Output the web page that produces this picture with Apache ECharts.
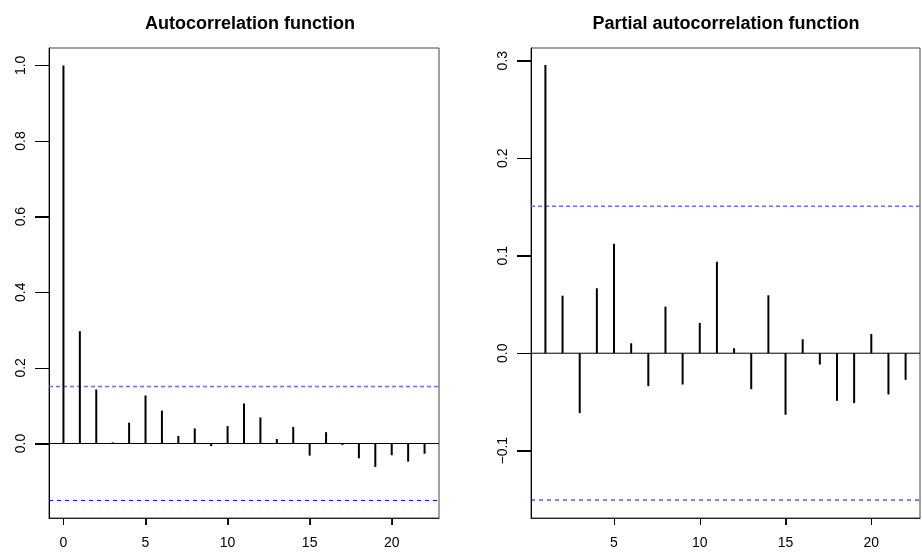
<!DOCTYPE html>
<html>
<head>
<meta charset="utf-8">
<script src="https://cdn.jsdelivr.net/npm/echarts@6/dist/echarts.min.js"></script>
<style>
  html, body { margin: 0; padding: 0; background: #fff; }
  #chart { width: 922px; height: 553px; }
</style>
</head>
<body>
<div id="chart"></div>
<script>
// lags and values
var acfLags = [0, 1, 2, 3, 4, 5, 6, 7, 8, 9, 10, 11, 12, 13, 14, 15, 16, 17, 18, 19, 20, 21, 22];
var acfValues = [1.0, 0.297, 0.143, 0.003, 0.055, 0.127, 0.087, 0.020, 0.040, -0.007, 0.046, 0.106,
    0.069, 0.012, 0.044, -0.032, 0.030, -0.004, -0.039, -0.062, -0.031, -0.048, -0.027];

var pacfLags = [1, 2, 3, 4, 5, 6, 7, 8, 9, 10, 11, 12, 13, 14, 15, 16, 17, 18, 19, 20, 21, 22];
var pacfValues = [0.2955, 0.059, -0.0614, 0.0666, 0.1122, 0.0102, -0.0338, 0.0478, -0.0321, 0.0311, 0.0938,
    0.0051, -0.0369, 0.0594, -0.0631, 0.0143, -0.0116, -0.0488, -0.0512, 0.0198, -0.0423, -0.0273];

var ciBound = 0.1506;

var acfXTicks = [0, 5, 10, 15, 20];
var pacfXTicks = [5, 10, 15, 20];
var acfYTicks = [0, 0.2, 0.4, 0.6, 0.8, 1.0];
var pacfYTicks = [-0.1, 0, 0.1, 0.2, 0.3];

// plot ranges (R pads by 4% each side)
var acfXRange = [-0.88, 22.88];
var pacfXRange = [0.16, 22.84];
var acfYRange = [-0.197, 1.046];
var pacfYRange = [-0.169, 0.313];

var FONT = '"Liberation Sans", Arial, Helvetica, sans-serif';

var myChart = echarts.init(document.getElementById('chart'));

function pairs(xs, ys) {
    return xs.map(function (x, i) { return [x, ys[i]]; });
}

function xAxisOf(idx, range, ticks) {
    return {
        gridIndex: idx, type: 'value', min: range[0], max: range[1],
        splitLine: {show: false},
        axisLine: {show: true, onZero: false, lineStyle: {color: '#222', width: 1}},
        axisTick: {show: true, length: 7, customValues: ticks},
        axisLabel: {
            customValues: ticks, fontSize: 14, color: '#000', fontFamily: FONT, margin: 18
        }
    };
}

function yAxisOf(idx, range, ticks) {
    return {
        gridIndex: idx, type: 'value', min: range[0], max: range[1],
        splitLine: {show: false},
        axisLine: {show: true, onZero: false, lineStyle: {color: '#000', width: 1}},
        axisTick: {show: true, length: 14, customValues: ticks},
        axisLabel: {
            customValues: ticks, fontSize: 14, color: '#000', fontFamily: FONT,
            rotate: 90, margin: 21,
            formatter: function (v) {
                var s = Math.abs(v).toFixed(1);
                return v < -1e-9 ? '\u2212' + s : s;
            }
        }
    };
}

// horizontal reference line across the whole panel
function hLine(idx, range, y, color, width, dash) {
    return {
        type: 'line', xAxisIndex: idx, yAxisIndex: idx,
        data: [[range[0], y], [range[1], y]],
        symbol: 'none', silent: true, z: 1,
        lineStyle: {color: color, width: width, type: dash}
    };
}

var option = {
    animation: false,
    title: [
        {
            text: 'Autocorrelation function', left: 245, top: 10, textAlign: 'center',
            textStyle: {fontSize: 18, fontWeight: 'bold', color: '#000', fontFamily: FONT}
        },
        {
            text: 'Partial autocorrelation function', left: 721, top: 10, textAlign: 'center',
            textStyle: {fontSize: 18, fontWeight: 'bold', color: '#000', fontFamily: FONT}
        }
    ],
    grid: [
        {left: 49, top: 48, width: 390, height: 470, show: true, borderColor: '#444', borderWidth: 1},
        {left: 531, top: 48, width: 389, height: 470, show: true, borderColor: '#444', borderWidth: 1}
    ],
    xAxis: [
        xAxisOf(0, acfXRange, acfXTicks),
        xAxisOf(1, pacfXRange, pacfXTicks)
    ],
    yAxis: [
        yAxisOf(0, acfYRange, acfYTicks),
        yAxisOf(1, pacfYRange, pacfYTicks)
    ],
    series: [
        hLine(0, acfXRange, 0, '#000', 1, 'solid'),
        hLine(0, acfXRange, ciBound, '#6b6bff', 1.5, [4, 3]),
        hLine(0, acfXRange, -ciBound, '#0000ff', 1, [4, 4]),
        hLine(1, pacfXRange, 0, '#000', 1, 'solid'),
        hLine(1, pacfXRange, ciBound, '#6b6bff', 1.5, [4, 3]),
        hLine(1, pacfXRange, -ciBound, '#0000ff', 1, [4, 4]),
        {
            name: 'ACF', type: 'bar', xAxisIndex: 0, yAxisIndex: 0,
            barWidth: 2, itemStyle: {color: '#000'}, z: 3,
            data: pairs(acfLags, acfValues)
        },
        {
            name: 'PACF', type: 'bar', xAxisIndex: 1, yAxisIndex: 1,
            barWidth: 2, itemStyle: {color: '#000'}, z: 3,
            data: pairs(pacfLags, pacfValues)
        }
    ]
};

myChart.setOption(option);

// outward tick marks, positioned through the axis scales
var tickLines = [];
function addTicks(idx, xTicks, yTicks, xRange, yRange) {
    var finder = {xAxisIndex: idx, yAxisIndex: idx};
    xTicks.forEach(function (v) {
        var p = myChart.convertToPixel(finder, [v, yRange[0]]);
        if (!p || isNaN(p[0])) return;
        var x = Math.round(p[0]) + 0.5, y = Math.round(p[1]);
        tickLines.push({
            type: 'line', silent: true, z: 100,
            shape: {x1: x, y1: y, x2: x, y2: y + 7},
            style: {stroke: '#000', lineWidth: 1}
        });
    });
    yTicks.forEach(function (v) {
        var p = myChart.convertToPixel(finder, [xRange[0], v]);
        if (!p || isNaN(p[0])) return;
        var x = Math.round(p[0]), y = Math.round(p[1]) + 0.5;
        tickLines.push({
            type: 'line', silent: true, z: 100,
            shape: {x1: x - 14, y1: y, x2: x, y2: y},
            style: {stroke: '#000', lineWidth: 1}
        });
    });
}
addTicks(0, acfXTicks, acfYTicks, acfXRange, acfYRange);
addTicks(1, pacfXTicks, pacfYTicks, pacfXRange, pacfYRange);
myChart.setOption({graphic: {elements: tickLines}});
</script>
</body>
</html>
